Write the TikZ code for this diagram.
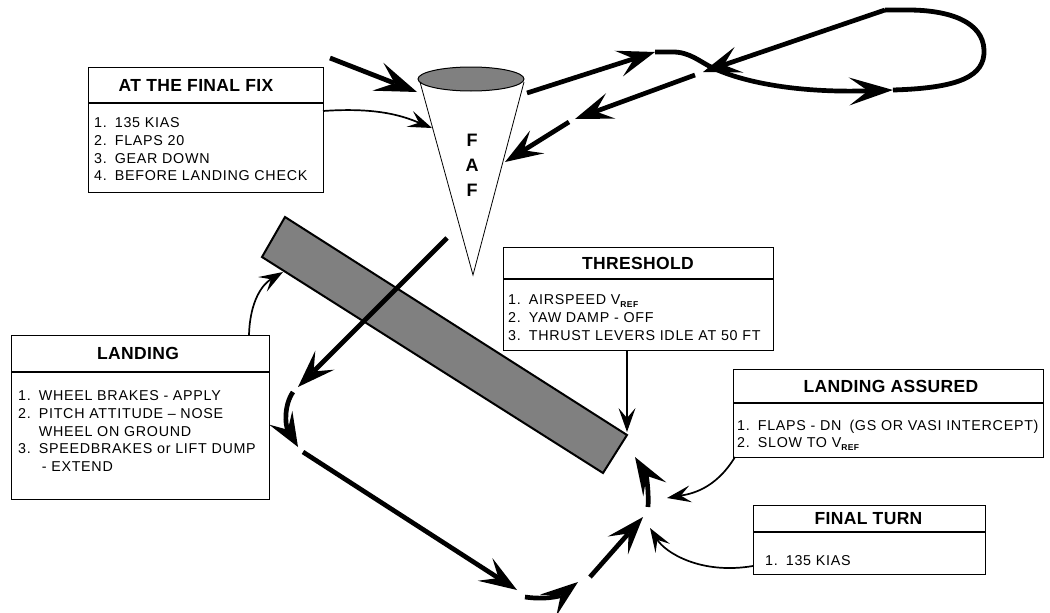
\documentclass[tikz,border=0pt]{standalone}
\usepackage{fontspec}
\setmainfont{Liberation Sans}
\newfontfamily\bodyf[LetterSpace=5]{Liberation Sans}
\newfontfamily\titlef[LetterSpace=2]{Liberation Sans}
\usetikzlibrary{arrows.meta,shapes.geometric}
\definecolor{rwgray}{RGB}{128,128,128}
\newcommand{\vrefsub}{V\raisebox{-2.5pt}{\fontsize{8.5}{8.5}\selectfont\bfseries REF}}
\newcommand{\itm}[1]{#1.\hspace{8pt}}
\begin{document}
\begin{tikzpicture}[x=1pt,y=-1pt,
  box/.style={draw, line width=1.3pt, inner sep=0pt, anchor=north west},
  divline/.style={line width=1.3pt},
  ttl/.style={font=\titlef\bfseries\fontsize{17.5}{17.5}\selectfont, inner sep=0pt},
  bdy/.style={font=\bodyf\fontsize{14.3}{17.7}\selectfont, anchor=north west, align=left, inner sep=0pt},
  bigarr/.style={line width=4.8pt, -{Stealth[length=42pt,width=30pt,inset=18pt,line width=0pt]}},
  midarr/.style={line width=4.7pt, -{Stealth[length=38pt,width=27pt,inset=16pt,line width=0pt]}},
  thinarr/.style={line width=1.7pt, -{Stealth[length=24pt,width=17pt,inset=10pt,line width=0pt]}},
  thickline/.style={line width=4.8pt}
]
\useasboundingbox (0,0) rectangle (1050,613);

% ---------- runway ----------
\coordinate (rA) at (285,217);
\coordinate (rB) at (627,435);
\coordinate (rC) at (603,473);
\coordinate (rD) at (262,257);
\draw[line width=2pt, fill=rwgray] (rA) -- (rB) -- (rC) -- (rD) -- cycle;

% ---------- FAF cone ----------
\coordinate (coneTL) at (420,82);
\coordinate (coneTR) at (524,82);
\coordinate (coneTip) at (473,275);
\draw[line width=0.8pt] (coneTL) -- (coneTip) -- (coneTR);
\node[draw, line width=1pt, fill=rwgray, ellipse, minimum width=106pt, minimum height=24pt, inner sep=0pt] (coneTop) at (471,79) {};
\node[font=\bfseries\fontsize{18}{25}\selectfont, align=center, inner sep=0pt] (faf) at (472,165) {F\\A\\F};

% ---------- boxes ----------
\node[box, minimum width=235pt, minimum height=125pt] (fix) at (88,67) {};
\draw[divline] (88,103) -- (323,103);
\node[ttl] (fixT) at (196,85) {AT THE FINAL FIX};
\node[bdy] (fixB) at (94,117.5) {\itm{1}135 KIAS\\\itm{2}FLAPS 20\\\itm{3}GEAR DOWN\\\itm{4}BEFORE LANDING CHECK};

\node[box, minimum width=270pt, minimum height=103pt] (thr) at (503,247) {};
\draw[divline] (503,279) -- (773,279);
\node[ttl] (thrT) at (638,263) {THRESHOLD};
\node[bdy] (thrB) at (508,294.5) {\itm{1}AIRSPEED \vrefsub\\\itm{2}YAW DAMP - OFF\\\itm{3}THRUST LEVERS IDLE AT 50 FT};

\node[box, minimum width=258pt, minimum height=164pt] (land) at (11,335) {};
\draw[divline] (11,372) -- (269,372);
\node[ttl] (landT) at (138,353.5) {LANDING};
\node[bdy] (landB) at (18,390.5) {\itm{1}WHEEL BRAKES - APPLY\\\itm{2}PITCH ATTITUDE – NOSE\\\phantom{2.}\hspace{8pt}WHEEL ON GROUND\\\itm{3}SPEEDBRAKES or LIFT DUMP\\\phantom{3.}\hspace{11pt}- EXTEND};

\node[box, minimum width=310pt, minimum height=88pt] (ass) at (733,369) {};
\draw[divline] (733,403) -- (1043,403);
\node[ttl] (assT) at (891,386) {LANDING ASSURED};
\node[bdy] (assB) at (737,419.5) {\itm{1}FLAPS - DN\hspace{8pt}(GS OR VASI INTERCEPT)\\\itm{2}SLOW TO \vrefsub};

\node[box, minimum width=232pt, minimum height=69pt] (turn) at (753,505) {};
\draw[divline] (753,532) -- (985,532);
\node[ttl] (turnT) at (868.5,518.5) {FINAL TURN};
\node[bdy] (turnB) at (765,555) {\itm{1}135 KIAS};

% ---------- inbound arrows to FAF ----------
\coordinate (inS) at (330,58);
\coordinate (inE) at (417,92);
\draw[bigarr] (inS) -- (inE);

\coordinate (fixOut) at (323,111);
\coordinate (coneIn) at (432,128);
\draw[thinarr] (fixOut) .. controls (380,107) and (405,117) .. (coneIn);

% ---------- holding loop ----------
\coordinate (coneOut) at (527,93);
\coordinate (up1) at (655,52);
\coordinate (bend1) at (673,52);
\coordinate (cross) at (713,68);
\coordinate (loopArr) at (893,90);
\coordinate (loopTop) at (885,10);
\coordinate (crossTip) at (703,72);
\draw[midarr] (coneOut) -- (up1);
\draw[thickline] (up1) -- (bend1) .. controls (690,52) and (700,62) .. (cross);
\draw[midarr, -{Stealth[length=44pt,width=28pt,inset=19pt,line width=0pt]}] (cross) .. controls (745,83) and (800,93) .. (loopArr);
\draw[thickline, line join=round] (loopArr) .. controls (960,88) and (985,76) .. (984,50) .. controls (983,22) and (950,10) .. (908,10) -- (loopTop);
\draw[midarr] (loopTop) -- (crossTip);
\coordinate (out1S) at (695,75);
\coordinate (out1E) at (575,119);
\draw[midarr] (out1S) -- (out1E);
\coordinate (out2S) at (569,122);
\coordinate (out2E) at (505,162);
\draw[midarr] (out2S) -- (out2E);

% ---------- approach across runway ----------
\coordinate (appS) at (447,238);
\coordinate (appE) at (298,387);
\draw[midarr] (appS) -- (appE);

% ---------- circuit ----------
\coordinate (c1S) at (293,392);
\coordinate (c1E) at (298,447);
\draw[midarr, -{Stealth[length=34pt,width=27pt,inset=14pt,line width=0pt]}] (c1S) .. controls (284,405) and (285,425) .. (c1E);
\coordinate (c2S) at (303,452);
\coordinate (c2E) at (517,590);
\draw[midarr] (c2S) -- (c2E);
\coordinate (c3S) at (525,597);
\coordinate (c3E) at (578,582);
\draw[midarr] (c3S) .. controls (545,600) and (560,596) .. (c3E);
\coordinate (c4S) at (590,577);
\coordinate (c4E) at (643,517);
\draw[midarr] (c4S) -- (c4E);
\coordinate (c5S) at (648,507);
\coordinate (c5E) at (635,457);
\draw[midarr] (c5S) .. controls (649,490) and (646,475) .. (c5E);

% ---------- box connectors ----------
\coordinate (landOut) at (249,335);
\coordinate (rwLow) at (283,272);
\draw[thinarr] (landOut) .. controls (250,300) and (263,284) .. (rwLow);

\coordinate (thrOut) at (627,350);
\coordinate (thrIn) at (627,432);
\draw[thinarr] (thrOut) -- (thrIn);

\coordinate (assOut) at (735,457);
\coordinate (assIn) at (667,498);
\draw[thinarr] (assOut) .. controls (715,490) and (690,494) .. (assIn);

\coordinate (turnOut) at (753,566);
\coordinate (turnIn) at (650,528);
\draw[thinarr] (turnOut) .. controls (700,575) and (665,552) .. (turnIn);
\end{tikzpicture}
\end{document}
